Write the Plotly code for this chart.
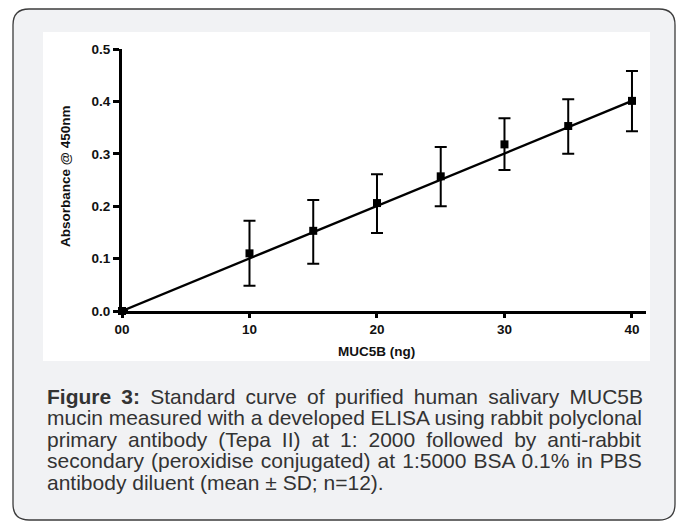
import plotly.graph_objects as go

# ---------------- data ----------------
conc_ng = [0, 10, 15, 20, 25, 30, 35, 40]
absorb_mean = [0.0, 0.110, 0.153, 0.206, 0.257, 0.318, 0.353, 0.401]
absorb_upper = [0.0, 0.172, 0.212, 0.261, 0.313, 0.368, 0.404, 0.458]
absorb_lower = [0.0, 0.048, 0.090, 0.149, 0.200, 0.269, 0.300, 0.343]
fit_x = [0, 40]
fit_y = [0.0, 0.401]
x_tick_vals = [0, 10, 20, 30, 40]
x_tick_text = ["00", "10", "20", "30", "40"]
y_tick_vals = [0.0, 0.1, 0.2, 0.3, 0.4, 0.5]
y_tick_text = ["0.0", "0.1", "0.2", "0.3", "0.4", "0.5"]
x_title = "MUC5B (ng)"
y_title = "Absorbance @ 450nm"
caption_bold = "Figure 3:"
caption_lines = [
    " Standard curve of purified human salivary MUC5B",
    "mucin measured with a developed ELISA using rabbit polyclonal",
    "primary antibody (Tepa II) at 1: 2000 followed by anti-rabbit",
    "secondary (peroxidise conjugated) at 1:5000 BSA 0.1% in PBS",
    "antibody diluent (mean ± SD; n=12).",
]
caption_justify = [True, True, True, True, False]

# ---------------- geometry ----------------
W, H = 685, 522
L, R, T, B = 122, 39, 49, 211
PW, PH = W - L - R, H - T - B


def px(x):
    return (x - L) / PW


def py(y):
    return (H - B - y) / PH


# Arial advance widths (per 1000 em) for caption justification
AR = {' ': 278, '%': 889, '(': 333, ')': 333, '-': 333, '.': 278, ':': 278, ';': 278,
      '=': 584, '±': 549, 'A': 667, 'B': 667, 'C': 722, 'D': 722, 'E': 667, 'F': 611,
      'I': 278, 'L': 556, 'M': 833, 'P': 667, 'S': 667, 'T': 611, 'U': 722,
      'a': 556, 'b': 556, 'c': 500, 'd': 556, 'e': 556, 'f': 278, 'g': 556, 'h': 556,
      'i': 222, 'j': 222, 'k': 500, 'l': 222, 'm': 833, 'n': 556, 'o': 556, 'p': 556,
      'q': 556, 'r': 333, 's': 500, 't': 278, 'u': 556, 'v': 500, 'w': 722, 'x': 500,
      'y': 500, 'z': 500}
for d in "0123456789":
    AR[d] = 556
ARB = {'F': 611, 'i': 278, 'g': 611, 'u': 611, 'r': 389, 'e': 556, ' ': 278, '3': 556, ':': 333}


def width(s, table, fs):
    return sum(table.get(c, 556) for c in s) * fs / 1000.0


CAP_FS = 21
CAP_LEFT = 47
CAP_RIGHT = 643
CAP_BASE0 = 403.5
CAP_STEP = 21.5

err_plus = [u - m for u, m in zip(absorb_upper, absorb_mean)]
err_minus = [m - lo for m, lo in zip(absorb_mean, absorb_lower)]

fig = go.Figure()
fig.add_trace(go.Scatter(
    x=fit_x, y=fit_y, mode="lines",
    line=dict(color="black", width=2.3),
    hoverinfo="skip", showlegend=False, cliponaxis=False,
))
fig.add_trace(go.Scatter(
    x=conc_ng, y=absorb_mean, mode="markers",
    marker=dict(symbol="square", size=8, color="black"),
    error_y=dict(type="data", symmetric=False, array=err_plus, arrayminus=err_minus,
                 color="black", thickness=2, width=6),
    showlegend=False, cliponaxis=False,
))

FAM = "Arial, Liberation Sans, sans-serif"
font_axis = dict(family=FAM, size=13.5, color="#111111")
tick_font = dict(family=FAM, size=13.5, color="#111111", weight="bold")

fig.update_xaxes(
    range=[0, 41.1], tickvals=x_tick_vals, ticktext=x_tick_text,
    showline=True, linewidth=3, linecolor="black", mirror=False,
    ticks="outside", ticklen=4, tickwidth=3, tickcolor="black",
    showgrid=False, zeroline=False, tickfont=tick_font,
)
fig.update_yaxes(
    range=[0, 0.5], tickvals=y_tick_vals, ticktext=y_tick_text,
    showline=True, linewidth=3, linecolor="black", mirror=False,
    ticks="outside", ticklen=6, tickwidth=2.5, tickcolor="black",
    showgrid=False, zeroline=False, tickfont=tick_font,
)

# rounded outer panel
left, right, top, bottom, r = 13, 675, 9, 520, 16
path = (
    f"M {px(left + r)},{py(top)} L {px(right - r)},{py(top)} "
    f"Q {px(right)},{py(top)} {px(right)},{py(top + r)} "
    f"L {px(right)},{py(bottom - r)} Q {px(right)},{py(bottom)} {px(right - r)},{py(bottom)} "
    f"L {px(left + r)},{py(bottom)} Q {px(left)},{py(bottom)} {px(left)},{py(bottom - r)} "
    f"L {px(left)},{py(top + r)} Q {px(left)},{py(top)} {px(left + r)},{py(top)} Z"
)
shapes = [
    dict(type="path", xref="paper", yref="paper", path=path, layer="below",
         fillcolor="#f1f2f4", line=dict(color="#3c3c3c", width=1.3)),
    dict(type="rect", xref="paper", yref="paper", layer="below",
         x0=px(43), x1=px(650), y0=py(32), y1=py(361),
         fillcolor="white", line=dict(width=0)),
]

annotations = [
    dict(text="<b>" + x_title + "</b>", xref="paper", yref="paper",
         x=px(376), y=py(351), xanchor="center", yanchor="middle", showarrow=False,
         font=font_axis),
    dict(text="<b>" + y_title + "</b>", xref="paper", yref="paper", textangle=-90,
         x=px(65), y=py(177), xanchor="center", yanchor="middle", showarrow=False,
         font=font_axis),
]

for i, (line, just) in enumerate(zip(caption_lines, caption_justify)):
    natural = width(line, AR, CAP_FS)
    nspaces = line.count(" ")
    text = line
    if i == 0:
        natural += width(caption_bold, ARB, CAP_FS)
        nspaces += caption_bold.count(" ")
        text = "<b>" + caption_bold + "</b>" + line
    if just and nspaces:
        ws = (CAP_RIGHT - CAP_LEFT - natural) / nspaces
        text = f'<span style="word-spacing:{ws:.2f}px">' + text + "</span>"
    base = CAP_BASE0 + i * CAP_STEP
    center = base - 0.3465 * CAP_FS
    annotations.append(dict(
        text=text, xref="paper", yref="paper",
        x=px(CAP_LEFT - 2), y=py(center), xanchor="left", yanchor="middle",
        showarrow=False, align="left",
        font=dict(family=FAM, size=CAP_FS, color="#333333"),
    ))

fig.update_layout(
    width=W, height=H, margin=dict(l=L, r=R, t=T, b=B, autoexpand=False),
    paper_bgcolor="white", plot_bgcolor="white",
    shapes=shapes, annotations=annotations, showlegend=False,
)

fig.write_html("out.html", config={"displayModeBar": False},
               post_script="document.body.style.margin='0';")
